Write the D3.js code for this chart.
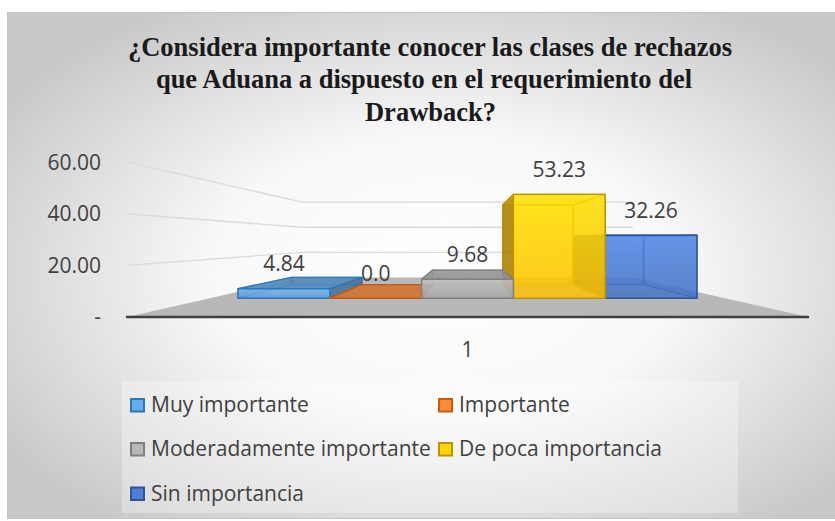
<!DOCTYPE html>
<html>
<head>
<meta charset="utf-8">
<script src="https://cdn.jsdelivr.net/npm/d3@7"></script>
<style>
  html, body { margin: 0; padding: 0; background: #ffffff; }
  #wrap { position: relative; width: 835px; height: 521px; overflow: hidden; }
  svg { display: block; position: absolute; left: 0; top: 0; }
  .title-line {
    position: absolute; width: 800px; text-align: center; white-space: nowrap;
    font: bold 26.5px "Liberation Serif", "Times New Roman", serif;
    line-height: 32.7px; color: #1a1a1a;
  }
</style>
</head>
<body>
<div id="wrap">
  <svg id="chart" width="835" height="521"></svg>
</div>
<script>
// ── Data ─────────────────────────────────────────────────────────────────────

const title = [
  "¿Considera importante conocer las clases de rechazos",
  "que Aduana a dispuesto en el requerimiento del",
  "Drawback?"
];
const categories = ["1"];
const series = ["Muy importante", "Importante", "Moderadamente importante", "De poca importancia", "Sin importancia"];
const values = [4.84, 0.0, 9.68, 53.23, 32.26];
const valueLabels = ["4.84", "0.0", "9.68", "53.23", "32.26"];
const yTicks = [0, 20, 40, 60];
const yTickLabels = ["-", "20.00", "40.00", "60.00"];
const colors = ["#5B9BD5", "#ED7D31", "#A5A5A5", "#FFC000", "#4472C4"];
const edgeColors = ["#2E75B6", "#C55A11", "#7F7F7F", "#BF9000", "#2F5597"];

// ── Layout / perspective ─────────────────────────────────────────────────────

const svg = d3.select("#chart");
const VP = [467.5, 240];          // vanishing point
const FLOOR_BACK = 0.486;         // depth scale of the back wall
const BAR_FRONT = 0.756;          // depth scale of bar front faces
const BAR_BACK = 0.58;            // depth scale of bar back faces

const y = d3.scaleLinear().domain([0, 60]).range([317, 162.2]);
const x = d3.scaleBand().domain(series).range([127, 808]).paddingOuter(0.305).paddingInner(0);

const proj = (px, py, s) => [VP[0] + s * (px - VP[0]), VP[1] + s * (py - VP[1])];
const poly = (pts) => "M" + pts.map((p) => p.join(",")).join("L") + "Z";

// ── Defs ─────────────────────────────────────────────────────────────────────

const defs = svg.append("defs");
const bg = defs.append("radialGradient").attr("id", "bg")
  .attr("cx", "52%").attr("cy", "52%").attr("r", "62%");
bg.append("stop").attr("offset", "0%").attr("stop-color", "#ffffff");
bg.append("stop").attr("offset", "45%").attr("stop-color", "#f8f8f8");
bg.append("stop").attr("offset", "100%").attr("stop-color", "#c9c9c9");

colors.forEach((c, i) => {
  const g = defs.append("linearGradient").attr("id", `bar${i}`)
    .attr("x1", 0).attr("y1", 0).attr("x2", 0).attr("y2", 1);
  g.append("stop").attr("offset", "0%").attr("stop-color", d3.color(c).brighter(0.5));
  g.append("stop").attr("offset", "100%").attr("stop-color", c);
});

// ── Background ───────────────────────────────────────────────────────────────

svg.append("rect").attr("x", 7.5).attr("y", 12.5).attr("width", 840).attr("height", 506)
  .attr("fill", "url(#bg)").attr("stroke", "#c4c4c4");

// Title: HTML lines over the svg so the serif face is used
const titleX = [430, 424, 430.5];
d3.select("#wrap").selectAll("div.title-line").data(title).join("div")
  .attr("class", "title-line")
  .style("left", (d, i) => `${titleX[i] - 400}px`)
  .style("top", (d, i) => `${30.7 + i * 32.7}px`)
  .text((d) => d);

// ── Walls, gridlines, floor ──────────────────────────────────────────────────

const xL = 127, xR = 808;
const grid = svg.append("g").attr("stroke", "#d9d9d9").attr("stroke-width", 1.3).attr("fill", "none");
yTicks.filter((t) => t > 0).forEach((t) => {
  const a = proj(xL, y(t), 1), b = proj(xL, y(t), FLOOR_BACK), c = proj(xR, y(t), FLOOR_BACK);
  grid.append("path").attr("d", `M${a}L${b}L${c}`);
});

const floor = [proj(xL, y(0), 1), proj(xR, y(0), 1), proj(xR, y(0), FLOOR_BACK), proj(xL, y(0), FLOOR_BACK)];
svg.append("path").attr("d", poly(floor)).attr("fill", "#b8b8b8");
svg.append("line")
  .attr("x1", xL).attr("x2", xR).attr("y1", y(0)).attr("y2", y(0))
  .attr("stroke", "#404040").attr("stroke-width", 2.5).attr("stroke-linecap", "round");

// Axis labels
const axisFont = "'Open Sans', 'Noto Sans', sans-serif";
const fs = 21;
svg.append("g").selectAll("text").data(yTicks).join("text")
  .attr("x", 101).attr("y", (d) => y(d)).attr("dy", "0.35em")
  .attr("text-anchor", "end")
  .style("font-family", axisFont).style("font-size", fs + "px").attr("fill", "#404040")
  .text((d, i) => yTickLabels[i]);

svg.append("text").attr("x", 467.5).attr("y", 350).attr("dy", "0.35em")
  .attr("text-anchor", "middle")
  .style("font-family", axisFont).style("font-size", fs + "px").attr("fill", "#404040")
  .text(categories[0]);

// ── Bars ─────────────────────────────────────────────────────────────────────

const bars = series.map((s, i) => ({ i, name: s, value: values[i], x0: x(s), x1: x(s) + x.bandwidth() }));
const order = bars.slice().sort((a, b) =>
  Math.abs((b.x0 + b.x1) / 2 - VP[0]) - Math.abs((a.x0 + a.x1) / 2 - VP[0]));

const barG = svg.append("g");
order.forEach((d) => {
  const y0 = y(0), y1 = y(d.value);
  const P = (px, py, s) => proj(px, py, s);
  const col = d3.color(colors[d.i]);
  const g = barG.append("g").attr("stroke", edgeColors[d.i]).attr("stroke-width", 1.4)
    .attr("stroke-linejoin", "round");

  const faces = [];
  // back
  faces.push({ pts: [P(d.x0, y1, BAR_BACK), P(d.x1, y1, BAR_BACK), P(d.x1, y0, BAR_BACK), P(d.x0, y0, BAR_BACK)], fill: col, op: 0.35 });
  // left side
  faces.push({ pts: [P(d.x0, y1, BAR_FRONT), P(d.x0, y1, BAR_BACK), P(d.x0, y0, BAR_BACK), P(d.x0, y0, BAR_FRONT)],
    fill: col.darker(d.x0 > VP[0] ? 1.3 : 0.6), op: d.x0 > VP[0] ? 0.8 : 0.3 });
  // right side
  faces.push({ pts: [P(d.x1, y1, BAR_FRONT), P(d.x1, y1, BAR_BACK), P(d.x1, y0, BAR_BACK), P(d.x1, y0, BAR_FRONT)],
    fill: col.darker(d.x1 < VP[0] ? 1.0 : 0.6), op: d.x1 < VP[0] ? 0.8 : 0.3 });
  // top
  faces.push({ pts: [P(d.x0, y1, BAR_FRONT), P(d.x1, y1, BAR_FRONT), P(d.x1, y1, BAR_BACK), P(d.x0, y1, BAR_BACK)],
    fill: col.darker(0.35), op: y1 > VP[1] ? 0.85 : 0.3 });

  faces.forEach((f) => {
    g.append("path").attr("d", poly(f.pts))
      .attr("fill", f.fill).attr("fill-opacity", f.op).attr("stroke-opacity", 0.85);
  });
  // front
  g.append("path")
    .attr("d", poly([P(d.x0, y1, BAR_FRONT), P(d.x1, y1, BAR_FRONT), P(d.x1, y0, BAR_FRONT), P(d.x0, y0, BAR_FRONT)]))
    .attr("fill", `url(#bar${d.i})`).attr("fill-opacity", 0.82);
});

// Value labels
svg.append("g").selectAll("text").data(bars).join("text")
  .attr("x", (d) => proj((d.x0 + d.x1) / 2, 0, BAR_FRONT)[0])
  .attr("y", (d) => proj(0, y(d.value), BAR_FRONT)[1] - 25)
  .attr("dy", "0.35em").attr("text-anchor", "middle")
  .style("font-family", axisFont).style("font-size", fs + "px").attr("fill", "#404040")
  .text((d) => valueLabels[d.i]);

// ── Legend ───────────────────────────────────────────────────────────────────

svg.append("rect").attr("x", 122).attr("y", 381).attr("width", 616).attr("height", 132)
  .attr("fill", "#ffffff").attr("fill-opacity", 0.3);

const legendCols = [131, 439];
const legendRows = [405, 449, 493.5];
const legend = svg.append("g").selectAll("g").data(series).join("g")
  .attr("transform", (d, i) => `translate(${legendCols[i % 2]},${legendRows[Math.floor(i / 2)]})`);
legend.append("rect").attr("x", 0).attr("y", -6).attr("width", 13).attr("height", 12.5)
  .attr("fill", (d, i) => d3.color(colors[i]).brighter(0.3)).attr("stroke", (d, i) => edgeColors[i]).attr("stroke-width", 2);
legend.append("text").attr("x", 20).attr("dy", "0.35em")
  .style("font-family", axisFont).style("font-size", fs + "px").attr("fill", "#404040")
  .text((d) => d);
</script>
</body>
</html>
